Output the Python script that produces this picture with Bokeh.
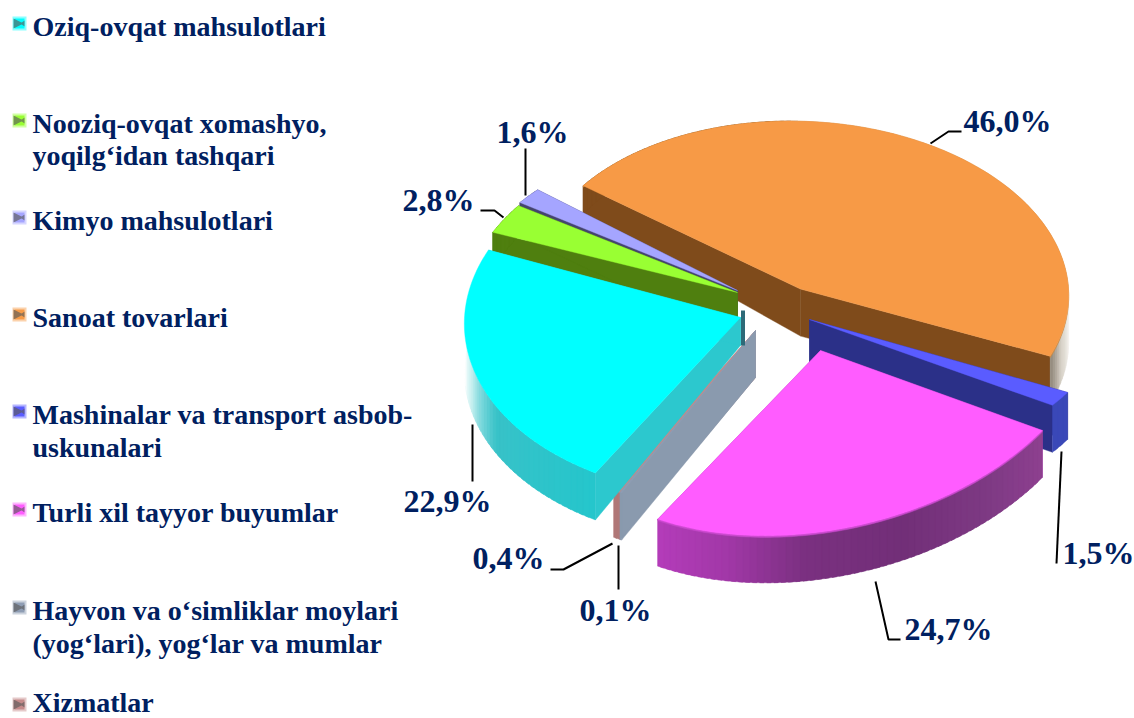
import math
from bokeh.plotting import figure
from bokeh.models import Range1d
from bokeh.core.properties import value
from bokeh.embed import file_html
from bokeh.resources import INLINE

# ---- data ----
categories = ["Oziq-ovqat mahsulotlari", "Nooziq-ovqat xomashyo,\nyoqilg\u2018idan tashqari", "Kimyo mahsulotlari",
              "Sanoat tovarlari", "Mashinalar va transport asbob-\nuskunalari", "Turli xil tayyor buyumlar",
              "Hayvon va o\u2018simliklar moylari\n(yog\u2018lari), yog\u2018lar va mumlar", "Xizmatlar"]
shares = [22.9, 2.8, 1.6, 46.0, 1.5, 24.7, 0.1, 0.4]
share_labels = ["22,9%", "2,8%", "1,6%", "46,0%", "1,5%", "24,7%", "0,1%", "0,4%"]

# ---- styles and layout ----
NAVY = "#002060"
FONT = value("Liberation Serif")
START = -150.3
top_col = ["#00FFFF", "#99FF33", "#A5A5FF", "#F79A46", "#5A5CFF", "#FF5CFF", "#8E9DB4", "#C58A8A"]
side_col = ["#2CC8CE", "#4F7F0F", "#44446E", "#7F4B1B", "#2B3088", "#B23CB8", "#8A9AAE", "#C08484"]
# apex x, apex y, radius x, radius y, shear x, shear y
geom = [(740, 317, 276, 179, -9.6, 0), (737, 292, 274, 168.6, -24, -3.6), (737, 290, 273, 158, -25, 4.4),
        (800, 288.6, 268, 168, 10, 0), (809, 319, 296.5, 158, -34, 10.6), (820, 350, 275, 185, -38.5, -11),
        (755, 330, 286, 184, 0, 0), (755, 330, 286, 184, 0, 0)]
# outer wall colour stops (degrees clockwise from the back)
wall_stops = {0: [(209.7, "#24C6CC"), (240, "#38C2C8"), (248, "#7CD8DC"), (255, "#C8F0F0"), (264, "#FFFFFF")],
              1: [(0, "#4F7F0F"), (360, "#4F7F0F")], 2: [(0, "#44446E"), (360, "#44446E")],
              3: [(80, "#FFFFFF"), (96, "#F4F2EE"), (106, "#D8D2C8"), (113.6, "#8F8578"), (130, "#7F4B1B"), (360, "#7F4B1B")],
              4: [(100, "#3A48B8"), (125, "#3A48B8")],
              5: [(119, "#8E4090"), (135, "#7E3A84"), (155, "#722F78"), (175, "#7A3080"), (192, "#A238A8"), (208, "#B43CBA")],
              6: [(0, "#8A9AAE"), (360, "#8A9AAE")], 7: [(0, "#B07878"), (360, "#B07878")]}
DEPTH = 47
apex_depth = [28, 47, 47, 47, 47, 47, 47, 47]
draw_order = [3, 2, 1, 7, 6, 0, 4, 5]
legend_y = [[26], [123, 155], [220], [317], [414, 447], [512], [610, 643], [702]]
key_y = [23, 120, 217, 314, 411, 509, 607, 704]
label_x = [403, 402, 496, 963, 1062, 904, 579, 472]
label_y = [500, 199, 131, 120, 552, 628, 609, 557]
leaders = [([472, 472], [424, 481]), ([480, 494, 503], [210, 210, 217]), ([525, 525], [148, 195]),
           ([930, 948, 961], [143, 131, 131]), ([1061, 1056], [451, 563]), ([875, 888, 900], [581, 639, 639]),
           ([618, 618], [545, 589]), ([612, 563, 550], [543, 569, 569])]


def hexrgb(c):
    return [int(c[i:i + 2], 16) for i in (1, 3, 5)]


def lerp(stops, a):
    stops = sorted(stops)
    if a <= stops[0][0]:
        return stops[0][1]
    for (a0, c0), (a1, c1) in zip(stops, stops[1:]):
        if a <= a1:
            t = (a - a0) / (a1 - a0)
            r = [round(u + (v - u) * t) for u, v in zip(hexrgb(c0), hexrgb(c1))]
            return "#%02X%02X%02X" % tuple(r)
    return stops[-1][1]


def pt(i, ang, r=1.0, down=False):
    ax, ay, rx, ry, gx, hy = geom[i]
    X, Y = math.sin(math.radians(ang)) * r, -math.cos(math.radians(ang)) * r
    x = ax + rx * X + gx * Y
    y = ay + ry * Y + hy * X
    if down:
        d = apex_depth[i] + (DEPTH - apex_depth[i]) * r
        y += d * (1 + 0.65 * Y if Y < 0 else 1)
    return x, y


xs, ys, fills, edges = [], [], [], []
rim = {3: "#C98A45", 5: "#C848CC"}


def add(points, color, edge=None):
    xs.append([q[0] for q in points])
    ys.append([q[1] for q in points])
    fills.append(color)
    edges.append(edge or color)


bounds = []
a = START
for v in shares:
    bounds.append((a, a + v * 3.6))
    a += v * 3.6

for i in draw_order:
    a0, a1 = bounds[i]
    # radial walls
    add([pt(i, a0, 0), pt(i, a0), pt(i, a0, 1, True), pt(i, a0, 0, True)], side_col[i])
    add([pt(i, a1, 0), pt(i, a1), pt(i, a1, 1, True), pt(i, a1, 0, True)], side_col[i])
    # outer wall, shaded along the arc; each piece overlaps the next to hide seams
    n = max(2, int((a1 - a0) / 1.5))
    step = (a1 - a0) / n
    for k in range(n):
        b0, b1 = a0 + step * k, min(a1, a0 + step * (k + 1.6))
        mid = a0 + step * (k + 0.5)
        add([pt(i, b0), pt(i, b1), pt(i, b1, 1, True), pt(i, b0, 1, True)], lerp(wall_stops[i], mid % 360))
    # soft rim under the top face
    n = max(3, int(a1 - a0))
    arc = [pt(i, a0 + (a1 - a0) * k / n) for k in range(n + 1)]
    if i in rim:
        add(arc + [(q[0], q[1] + 1.6) for q in reversed(arc)], rim[i])
    # top face
    add([pt(i, a0, 0)] + arc, top_col[i])

p = figure(width=1134, height=718, output_backend="svg", toolbar_location=None,
           x_range=Range1d(0, 1134), y_range=Range1d(718, 0), min_border=0,
           outline_line_color=None, background_fill_color="white")
p.styles = {"position": "absolute", "left": "0", "top": "0"}
p.axis.visible = False
p.grid.visible = False

p.patches(xs, ys, fill_color=fills, line_color=edges, line_width=0.4)

# dark inner edge behind the cyan slice at the pie's centre
ex, ey = pt(0, bounds[0][1], 0)
p.line([ex + 2.5, ex + 2.5], [ey - 7, ey + apex_depth[0]], line_color="#2E6A78", line_width=4)

p.multi_line([l[0] for l in leaders], [l[1] for l in leaders], line_color="black", line_width=2)

# legend keys
mx, my, mf = [], [], []
for i, col in enumerate(top_col):
    cy = key_y[i]
    c = hexrgb(col)
    pale = "#%02X%02X%02X" % tuple(round(u + (255 - u) * 0.55) for u in c)
    dark = "#%02X%02X%02X" % tuple(round(u * 0.35 + 60) for u in c)
    mx.append([12, 26, 26, 12]); my.append([cy - 7, cy - 7, cy + 7, cy + 7]); mf.append(pale)
    mx.append([14, 24, 24, 14]); my.append([cy - 5, cy - 5, cy + 5, cy + 5]); mf.append(col)
    mx.append([13, 23, 13]); my.append([cy - 5, cy, cy + 5]); mf.append(dark)
    mx.append([24, 20, 24]); my.append([cy - 3, cy, cy + 3]); mf.append(dark)
p.patches(mx, my, fill_color=mf, line_color=None)

# legend text
tx, ty, tt = [], [], []
for i, name in enumerate(categories):
    for line, yy in zip(name.split("\n"), legend_y[i]):
        tx.append(32); ty.append(yy); tt.append(line)
p.text(tx, ty, text=tt, text_font=FONT, text_font_style="bold", text_font_size="28px",
       text_color=NAVY, text_baseline="middle", text_align="left")
p.text(label_x, label_y, text=share_labels, text_font=FONT, text_font_style="bold", text_font_size="32px",
       text_color=NAVY, text_baseline="middle", text_align="left")

open("out.html", "w").write(file_html(p, INLINE))
